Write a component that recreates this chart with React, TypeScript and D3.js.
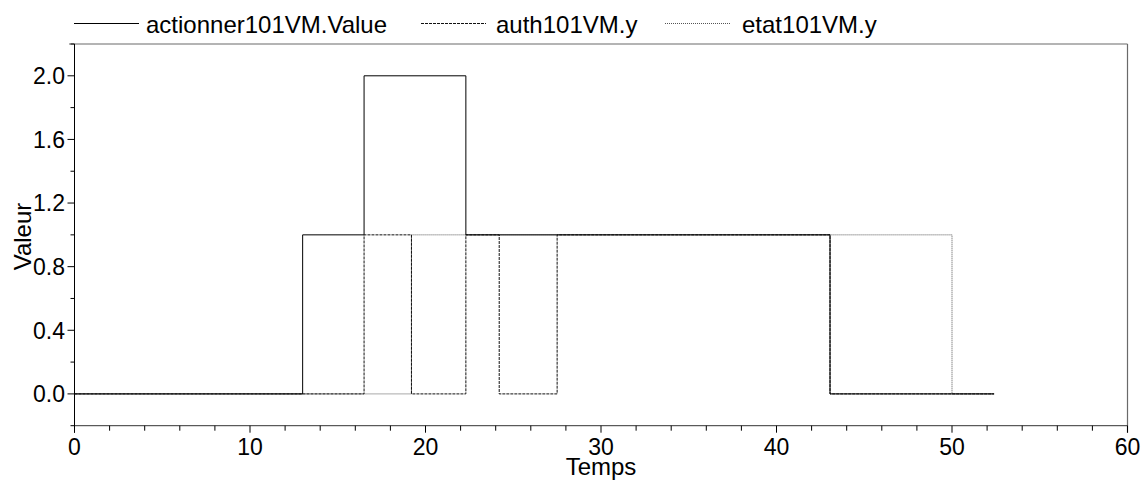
import React from "react";
import * as d3 from "d3";

const seriesNames = ["actionner101VM.Value", "auth101VM.y", "etat101VM.y"];
const actionnerT = [0, 13.0, 16.5, 22.3, 43.05, 52.4];
const actionnerV = [0, 1, 2, 1, 0, 0];
const authT = [0, 16.5, 19.2, 22.3, 24.2, 27.5, 43.05, 52.4];
const authV = [0, 1, 0, 1, 0, 1, 0, 0];
const etatT = [0, 19.2, 50.0, 52.4];
const etatV = [0, 1, 0, 0];
const xTicks = [0, 10, 20, 30, 40, 50, 60];
const yTicks = [0.0, 0.4, 0.8, 1.2, 1.6, 2.0];

const W = 1148, H = 480;
const FONT = "'Liberation Sans', Arial, sans-serif";

export default function App() {
  const x = d3.scaleLinear().domain([0, 60]).range([74.5, 1127.5]);
  const y = d3.scaleLinear().domain([-0.2, 2.2]).range([425.7, 44]);
  const line = d3
    .line<[number, number]>()
    .x((d) => x(d[0]))
    .y((d) => y(d[1]))
    .curve(d3.curveStepAfter);
  const mk = (t: number[], v: number[]) => t.map((tt, i) => [tt, v[i]] as [number, number]);
  const series = [
    { name: seriesNames[0], d: mk(actionnerT, actionnerV), stroke: "#000", dash: undefined as string | undefined },
    { name: seriesNames[1], d: mk(authT, authV), stroke: "#111", dash: "3,1" },
    { name: seriesNames[2], d: mk(etatT, etatV), stroke: "#555", dash: "1,1" },
  ];
  const xMinor = d3.range(0, 61, 2);
  const yMinor = d3.range(-0.2, 2.21, 0.2);
  const legendLineX = [74, 421, 665];
  const legendTextX = [146, 496, 742];
  return (
    <svg width={W} height={H} style={{ position: "absolute", left: 0, top: 0, background: "#fff" }}>
      <rect x={0} y={0} width={W} height={H} fill="#fff" />
      {/* frame */}
      <line x1={69} x2={x(60)} y1={y(2.2)} y2={y(2.2)} stroke="#6a6a6a" strokeWidth={1.2} />
      <line x1={x(60)} x2={x(60)} y1={y(2.2)} y2={y(-0.2) + 7} stroke="#6a6a6a" strokeWidth={1.2} />
      {/* series (draw in reverse so solid on top) */}
      {series
        .slice()
        .reverse()
        .map((s) => (
          <path key={s.name} d={line(s.d) || ""} fill="none" stroke={s.stroke} strokeWidth={1} strokeDasharray={s.dash} />
        ))}
      {/* axes */}
      <line x1={x(0)} x2={x(60)} y1={y(-0.2)} y2={y(-0.2)} stroke="#333" strokeWidth={1} />
      <line x1={x(0)} x2={x(0)} y1={y(2.2)} y2={y(-0.2) + 7} stroke="#000" strokeWidth={1} />
      {xMinor.map((t) => (
        <line key={"xm" + t} x1={x(t)} x2={x(t)} y1={y(-0.2)} y2={y(-0.2) + (t % 10 === 0 ? 7 : 5)} stroke="#000" strokeWidth={1} />
      ))}
      {yMinor.map((t, i) => (
        <line key={"ym" + i} x1={x(0) - (i % 2 === 1 ? 7 : 4)} x2={x(0)} y1={y(t)} y2={y(t)} stroke="#000" strokeWidth={1} />
      ))}
      {xTicks.map((t) => (
        <text key={"xl" + t} x={x(t)} y={455} textAnchor="middle" fontFamily={FONT} fontSize={23} fill="#000">
          {t}
        </text>
      ))}
      {yTicks.map((t) => (
        <text key={"yl" + t} x={65} y={y(t) + 8.3} textAnchor="end" fontFamily={FONT} fontSize={23} fill="#000">
          {t.toFixed(1)}
        </text>
      ))}
      <text x={(x(0) + x(60)) / 2} y={475} textAnchor="middle" fontFamily={FONT} fontSize={24} fill="#000">
        Temps
      </text>
      <text
        transform={`translate(30.5, 236.5) rotate(-90)`}
        textAnchor="middle"
        fontFamily={FONT}
        fontSize={24}
        fill="#000"
      >
        Valeur
      </text>
      {/* legend */}
      {series.map((s, i) => (
        <g key={"lg" + s.name}>
          <line x1={legendLineX[i]} x2={legendLineX[i] + 65} y1={23.5} y2={23.5} stroke={s.stroke} strokeWidth={1} strokeDasharray={s.dash} />
          <text x={legendTextX[i]} y={33} fontFamily={FONT} fontSize={24} fill="#000">
            {s.name}
          </text>
        </g>
      ))}
    </svg>
  );
}
